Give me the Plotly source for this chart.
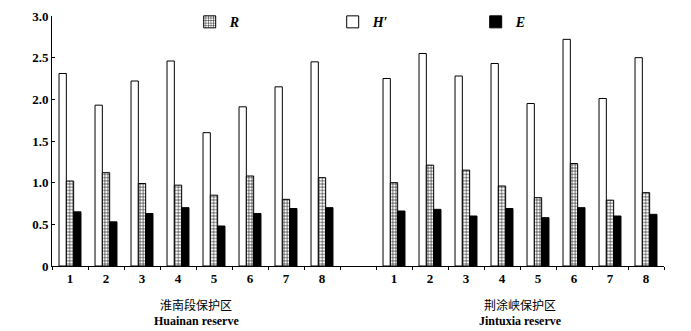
import plotly.graph_objects as go

sites = ["1", "2", "3", "4", "5", "6", "7", "8"]
huainan_H = [2.31, 1.93, 2.22, 2.46, 1.60, 1.91, 2.15, 2.45]
huainan_R = [1.02, 1.12, 0.99, 0.97, 0.85, 1.08, 0.80, 1.06]
huainan_E = [0.65, 0.53, 0.63, 0.70, 0.48, 0.63, 0.69, 0.70]
jintuxia_H = [2.25, 2.55, 2.28, 2.43, 1.95, 2.72, 2.01, 2.50]
jintuxia_R = [1.00, 1.21, 1.15, 0.96, 0.82, 1.23, 0.79, 0.88]
jintuxia_E = [0.66, 0.68, 0.60, 0.69, 0.58, 0.70, 0.60, 0.62]
y_ticks = [0, 0.5, 1.0, 1.5, 2.0, 2.5, 3.0]
y_tick_labels = ["0", "0.5", "1.0", "1.5", "2.0", "2.5", "3.0"]
group_cn = ["淮南段保护区", "荆涂峡保护区"]
group_en = ["Huainan reserve", "Jintuxia reserve"]

# positions: left group slots 1-8, gap slot 9, right group 10-17
xpos = list(range(1, 9)) + list(range(10, 18))
H = huainan_H + jintuxia_H
R = huainan_R + jintuxia_R
E = huainan_E + jintuxia_E

serif = "Liberation Serif"
fig = go.Figure()
fig.add_trace(go.Bar(x=xpos, y=H, name="<b><i>H′</i></b>", legendrank=2,
                     marker=dict(color="white", line=dict(color="black", width=1))))
fig.add_trace(go.Bar(x=xpos, y=R, name="<b><i>R</i></b>", legendrank=1,
                     marker=dict(color="white", line=dict(color="black", width=1),
                                 pattern=dict(shape="+", size=3.2, solidity=0.3,
                                              fgcolor="black", bgcolor="white",
                                              fillmode="replace"))))
fig.add_trace(go.Bar(x=xpos, y=E, name="<b><i>E</i></b>", legendrank=3,
                     marker=dict(color="black", line=dict(color="black", width=1))))

fig.update_layout(
    width=691, height=331,
    margin=dict(l=52, r=27, t=16, b=65, autoexpand=False),
    plot_bgcolor="white", paper_bgcolor="white",
    barmode="group", bargap=0.39, bargroupgap=0,
    font=dict(family=serif, color="black", size=13),
    legend=dict(orientation="h", x=0.225, y=0.975, xanchor="left", yanchor="middle",
                entrywidth=98, entrywidthmode="pixels", itemwidth=30,
                font=dict(family=serif, size=14), bgcolor="rgba(0,0,0,0)",
                traceorder="normal"),
    showlegend=True,
)
fig.update_xaxes(
    range=[0.5, 17.5], tickmode="array", tickvals=xpos, ticktext=sites + sites,
    showline=True, linecolor="black", linewidth=1, ticks="", showgrid=False,
    zeroline=False, tickfont=dict(family=serif, size=13, weight="bold"),
    minor=dict(tickmode="linear", tick0=0.5, dtick=1, ticks="outside", ticklen=3,
               tickcolor="black", showgrid=False),
)
fig.update_yaxes(
    range=[0, 3.0], tickmode="array", tickvals=y_ticks, ticktext=y_tick_labels,
    showline=True, linecolor="black", linewidth=1, ticks="inside", ticklen=3,
    tickcolor="black", showgrid=False, zeroline=False,
    tickfont=dict(family=serif, size=13, weight="bold"),
)
for cx, cn, en in zip([4.5, 13.5], group_cn, group_en):
    fig.add_annotation(x=cx, xref="x", y=-0.155, yref="paper", yanchor="middle",
                       text=cn, showarrow=False,
                       font=dict(family="Noto Sans CJK SC", size=12))
    fig.add_annotation(x=cx, xref="x", y=-0.22, yref="paper", yanchor="middle",
                       text=en, showarrow=False,
                       font=dict(family=serif, size=12, weight="bold"))

fig.write_html("out.html", config={"displayModeBar": False},
               post_script="document.body.style.margin='0px';")
